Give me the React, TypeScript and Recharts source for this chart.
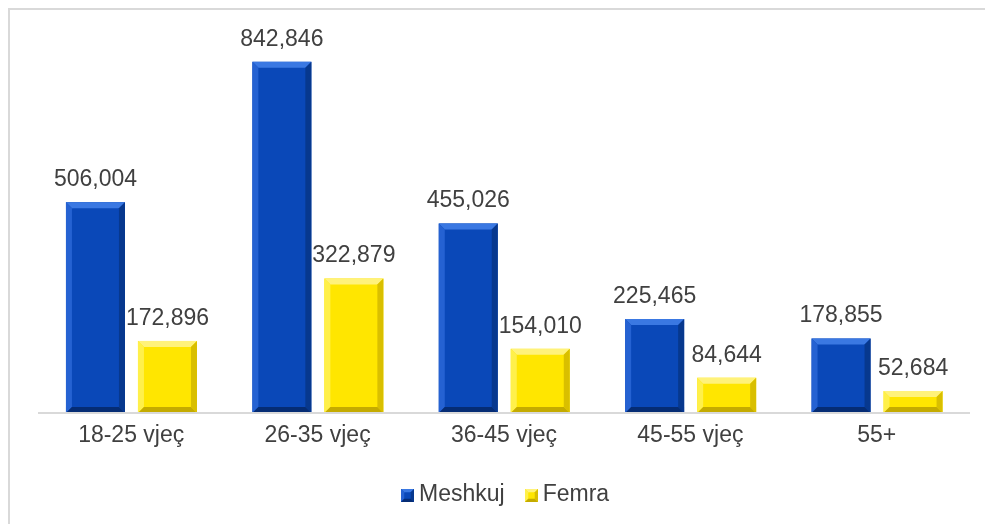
import { BarChart, Bar, XAxis, YAxis, LabelList } from 'recharts';

const categories = ['18-25 vjeç', '26-35 vjeç', '36-45 vjeç', '45-55 vjeç', '55+'];
const meshkuj = [506004, 842846, 455026, 225465, 178855];
const femra = [172896, 322879, 154010, 84644, 52684];

const data = categories.map((c, i) => ({ name: c, Meshkuj: meshkuj[i], Femra: femra[i] }));

const FONT = '"Liberation Sans", Arial, sans-serif';
const TEXT = '#404040';

const palettes = {
  blue: { base: '#0a48b8', top: '#3a78e2', left: '#2562d2', right: '#07388e', bottom: '#052c74' },
  yellow: { base: '#ffe600', top: '#fff27a', left: '#fff04a', right: '#d9bf00', bottom: '#c4ab00' },
};

function BevelBar(props: any, pal: typeof palettes.blue) {
  const { x, y, width, height } = props;
  if (!height || height <= 0) return null;
  const b = Math.min(6, width / 4, height / 3);
  const x2 = x + width, y2 = y + height;
  return (
    <g>
      <rect x={x} y={y} width={width} height={height} fill={pal.base} />
      <polygon points={`${x},${y} ${x2},${y} ${x2 - b},${y + b} ${x + b},${y + b}`} fill={pal.top} />
      <polygon points={`${x},${y} ${x + b},${y + b} ${x + b},${y2 - b} ${x},${y2}`} fill={pal.left} />
      <polygon points={`${x2},${y} ${x2},${y2} ${x2 - b},${y2 - b} ${x2 - b},${y + b}`} fill={pal.right} />
      <polygon points={`${x},${y2} ${x + b},${y2 - b} ${x2 - b},${y2 - b} ${x2},${y2}`} fill={pal.bottom} />
    </g>
  );
}

function LegendIcon({ pal }: { pal: typeof palettes.blue }) {
  return (
    <svg width={13} height={13} style={{ verticalAlign: -1, marginRight: 5 }}>
      {BevelBar({ x: 0, y: 0, width: 13, height: 13 }, pal)}
    </svg>
  );
}

const fmt = (v: any) => Number(v).toLocaleString('en-US');

export default function App() {
  return (
    <div style={{ position: 'fixed', left: 8, top: 8, width: 977, height: 516, overflow: 'hidden', borderLeft: '2px solid #d9d9d9', borderTop: '2px solid #d9d9d9', boxSizing: 'border-box' }}>
      <BarChart width={975} height={514} data={data} margin={{ top: 28, right: 15, bottom: 81, left: 28 }} barGap={13} barCategoryGap="15%">
        <XAxis dataKey="name" axisLine={{ stroke: '#d9d9d9', strokeWidth: 2 }} tickLine={false}
          tick={{ fontSize: 23, fill: TEXT, fontFamily: FONT }} tickMargin={7} interval={0} />
        <YAxis hide domain={[0, 900000]} />
        <Bar dataKey="Meshkuj" isAnimationActive={false} shape={(p: any) => BevelBar(p, palettes.blue)}>
          <LabelList dataKey="Meshkuj" position="top" offset={16} formatter={fmt}
            style={{ fontSize: 23, fill: TEXT, fontFamily: FONT }} />
        </Bar>
        <Bar dataKey="Femra" isAnimationActive={false} shape={(p: any) => BevelBar(p, palettes.yellow)}>
          <LabelList dataKey="Femra" position="top" offset={16} formatter={fmt}
            style={{ fontSize: 23, fill: TEXT, fontFamily: FONT }} />
        </Bar>
      </BarChart>
      <div style={{ position: 'absolute', top: 470, left: 391, whiteSpace: 'nowrap', fontFamily: FONT, fontSize: 23, color: TEXT }}>
        <span style={{ marginRight: 20 }}><LegendIcon pal={palettes.blue} />Meshkuj</span>
        <span><LegendIcon pal={palettes.yellow} />Femra</span>
      </div>
    </div>
  );
}
